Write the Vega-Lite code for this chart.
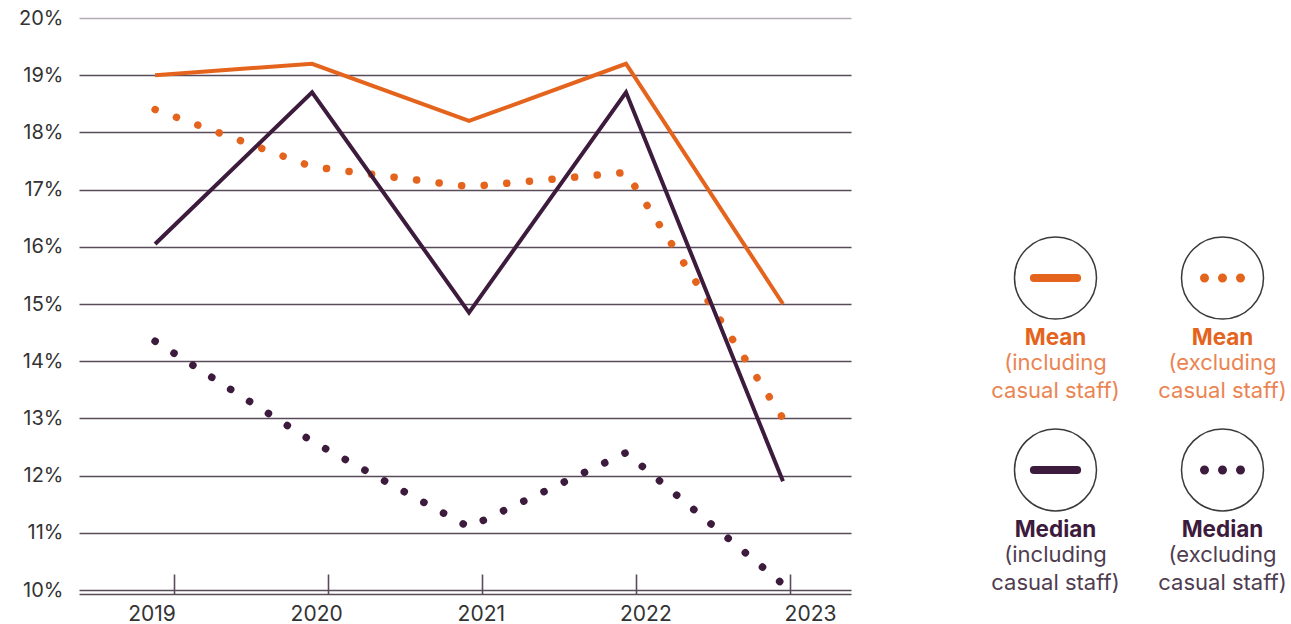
{
  "$schema": "https://vega.github.io/schema/vega-lite/v6.json",
  "background": "white",
  "padding": {"left": 18, "top": 8, "right": 0, "bottom": 0},
  "bounds": "flush",
  "spacing": 121,
  "config": {
    "view": {"stroke": null},
    "font": "Inter",
    "axis": {"labelFont": "Inter"}
  },
  "hconcat": [
    {
      "width": 772,
      "height": 572,
      "data": {
        "values": [
          {"stat": "Mean", "basis": "including", "year": 2019, "value": 19.0},
          {"stat": "Mean", "basis": "including", "year": 2020, "value": 19.2},
          {"stat": "Mean", "basis": "including", "year": 2021, "value": 18.2},
          {"stat": "Mean", "basis": "including", "year": 2022, "value": 19.2},
          {"stat": "Mean", "basis": "including", "year": 2023, "value": 15.0},
          {"stat": "Mean", "basis": "excluding", "year": 2019, "value": 18.4},
          {"stat": "Mean", "basis": "excluding", "year": 2020, "value": 17.4},
          {"stat": "Mean", "basis": "excluding", "year": 2021, "value": 17.05},
          {"stat": "Mean", "basis": "excluding", "year": 2022, "value": 17.3},
          {"stat": "Mean", "basis": "excluding", "year": 2023, "value": 13.0},
          {"stat": "Median", "basis": "including", "year": 2019, "value": 16.05},
          {"stat": "Median", "basis": "including", "year": 2020, "value": 18.7},
          {"stat": "Median", "basis": "including", "year": 2021, "value": 14.85},
          {"stat": "Median", "basis": "including", "year": 2022, "value": 18.7},
          {"stat": "Median", "basis": "including", "year": 2023, "value": 11.9},
          {"stat": "Median", "basis": "excluding", "year": 2019, "value": 14.35},
          {"stat": "Median", "basis": "excluding", "year": 2020, "value": 12.6},
          {"stat": "Median", "basis": "excluding", "year": 2021, "value": 11.1},
          {"stat": "Median", "basis": "excluding", "year": 2022, "value": 12.4},
          {"stat": "Median", "basis": "excluding", "year": 2023, "value": 10.1}
        ]
      },
      "layer": [
        {
          "mark": {"type": "point", "opacity": 0},
          "encoding": {
            "x": {
              "field": "year", "type": "ordinal",
              "scale": {"type": "point", "padding": 0.506, "align": 0.611},
              "axis": {
                "orient": "bottom", "title": null, "labels": false, "grid": false,
                "domain": true, "domainColor": "#5a4b5a", "domainWidth": 1.6,
                "offset": 4, "ticks": true, "tickSize": -20,
                "tickColor": "#5a4b5a", "tickWidth": 1.6
              }
            }
          }
        },
        {
          "mark": {"type": "point", "opacity": 0},
          "encoding": {
            "x": {
              "field": "year", "type": "ordinal",
              "scale": {"type": "point", "padding": 0.345, "align": 0.639},
              "axis": {
                "orient": "bottom", "title": null, "grid": false,
                "domain": false, "ticks": false, "labelAngle": 0,
                "labelPadding": 13, "labelFontSize": 21, "labelColor": "#333333"
              }
            }
          }
        },
        {
          "transform": [{"filter": "datum.basis === 'excluding'"}],
          "mark": {"type": "line", "strokeWidth": 7.5, "strokeCap": "round"},
          "encoding": {
            "x": {
              "field": "year", "type": "ordinal",
              "scale": {"type": "point", "padding": 0.459, "align": 0.528},
              "axis": null
            },
            "y": {
              "field": "value", "type": "quantitative",
              "scale": {"domain": [10, 20], "nice": false, "zero": false},
              "axis": {
                "title": null, "values": [10, 11, 12, 13, 14, 15, 16, 17, 18, 19, 20],
                "labelExpr": "datum.value + '%'",
                "domain": false, "ticks": false, "labelPadding": 16,
                "labelFontSize": 20, "labelColor": "#333333",
                "grid": true, "gridWidth": 1.6,
                "gridColor": {"condition": {"test": "datum.value === 20", "value": "#b3acb3"}, "value": "#5a4b5a"}
              }
            },
            "color": {
              "field": "stat", "type": "nominal",
              "scale": {"domain": ["Mean", "Median"], "range": ["#e4641e", "#3c1b3d"]},
              "legend": null
            },
            "strokeDash": {
              "field": "stat", "type": "nominal",
              "scale": {"domain": ["Mean", "Median"], "range": [[0.1, 22.6], [0.1, 22.3]]},
              "legend": null
            }
          }
        },
        {
          "transform": [{"filter": "datum.basis === 'including'"}],
          "mark": {"type": "line", "strokeWidth": 4, "strokeJoin": "miter"},
          "encoding": {
            "x": {
              "field": "year", "type": "ordinal",
              "scale": {"type": "point", "padding": 0.459, "align": 0.528},
              "axis": null
            },
            "y": {"field": "value", "type": "quantitative"},
            "color": {
              "field": "stat", "type": "nominal",
              "scale": {"domain": ["Mean", "Median"], "range": ["#e4641e", "#3c1b3d"]},
              "legend": null
            }
          }
        }
      ],
      "resolve": {"scale": {"x": "independent"}, "axis": {"x": "independent"}}
    },
    {
      "width": 334,
      "height": 572,
      "data": {
        "values": [
          {"stat": "Mean", "basis": "including", "title": "Mean", "note": "(including\ncasual staff)"},
          {"stat": "Mean", "basis": "excluding", "title": "Mean", "note": "(excluding\ncasual staff)"},
          {"stat": "Median", "basis": "including", "title": "Median", "note": "(including\ncasual staff)"},
          {"stat": "Median", "basis": "excluding", "title": "Median", "note": "(excluding\ncasual staff)"}
        ]
      },
      "encoding": {
        "x": {
          "field": "basis", "type": "nominal",
          "scale": {"type": "point", "domain": ["including", "excluding"], "padding": 0.5},
          "axis": null
        },
        "y": {
          "field": "stat", "type": "nominal",
          "scale": {"type": "point", "domain": ["Mean", "Median"], "padding": 0.99, "align": 0.684},
          "axis": null
        }
      },
      "layer": [
        {
          "mark": {"type": "point", "shape": "circle", "size": 6724, "filled": false, "stroke": "#3a3a3a", "strokeWidth": 1.5, "opacity": 1}
        },
        {
          "transform": [{"filter": "datum.basis === 'including'"}],
          "mark": {"type": "point", "shape": "M -0.9 0 L 0.9 0", "size": 2304, "filled": false, "strokeWidth": 8, "strokeCap": "round", "opacity": 1},
          "encoding": {
            "color": {
              "field": "stat", "type": "nominal",
              "scale": {"domain": ["Mean", "Median"], "range": ["#e4641e", "#3c1b3d"]},
              "legend": null
            }
          }
        },
        {
          "transform": [{"filter": "datum.basis === 'excluding'"}],
          "mark": {
            "type": "point",
            "shape": "M -0.9375 0 A 0.1875 0.1875 0 1 1 -0.5625 0 A 0.1875 0.1875 0 1 1 -0.9375 0 Z M -0.1875 0 A 0.1875 0.1875 0 1 1 0.1875 0 A 0.1875 0.1875 0 1 1 -0.1875 0 Z M 0.5625 0 A 0.1875 0.1875 0 1 1 0.9375 0 A 0.1875 0.1875 0 1 1 0.5625 0 Z",
            "size": 2304, "filled": true, "strokeWidth": 0, "opacity": 1
          },
          "encoding": {
            "color": {
              "field": "stat", "type": "nominal",
              "scale": {"domain": ["Mean", "Median"], "range": ["#e4641e", "#3c1b3d"]},
              "legend": null
            }
          }
        },
        {
          "mark": {"type": "text", "fontSize": 22.5, "fontWeight": "bold", "baseline": "middle", "align": "center", "dy": 60},
          "encoding": {
            "text": {"field": "title"},
            "color": {
              "field": "stat", "type": "nominal",
              "scale": {"domain": ["Mean", "Median"], "range": ["#e4641e", "#3c1b3d"]},
              "legend": null
            }
          }
        },
        {
          "mark": {"type": "text", "fontSize": 22, "baseline": "top", "align": "center", "dy": 75, "lineBreak": "\n", "lineHeight": 28},
          "encoding": {
            "text": {"field": "note"},
            "color": {
              "field": "stat", "type": "nominal",
              "scale": {"domain": ["Mean", "Median"], "range": ["#ea8553", "#4f3d50"]},
              "legend": null
            }
          }
        }
      ],
      "resolve": {"scale": {"color": "independent"}}
    }
  ]
}
